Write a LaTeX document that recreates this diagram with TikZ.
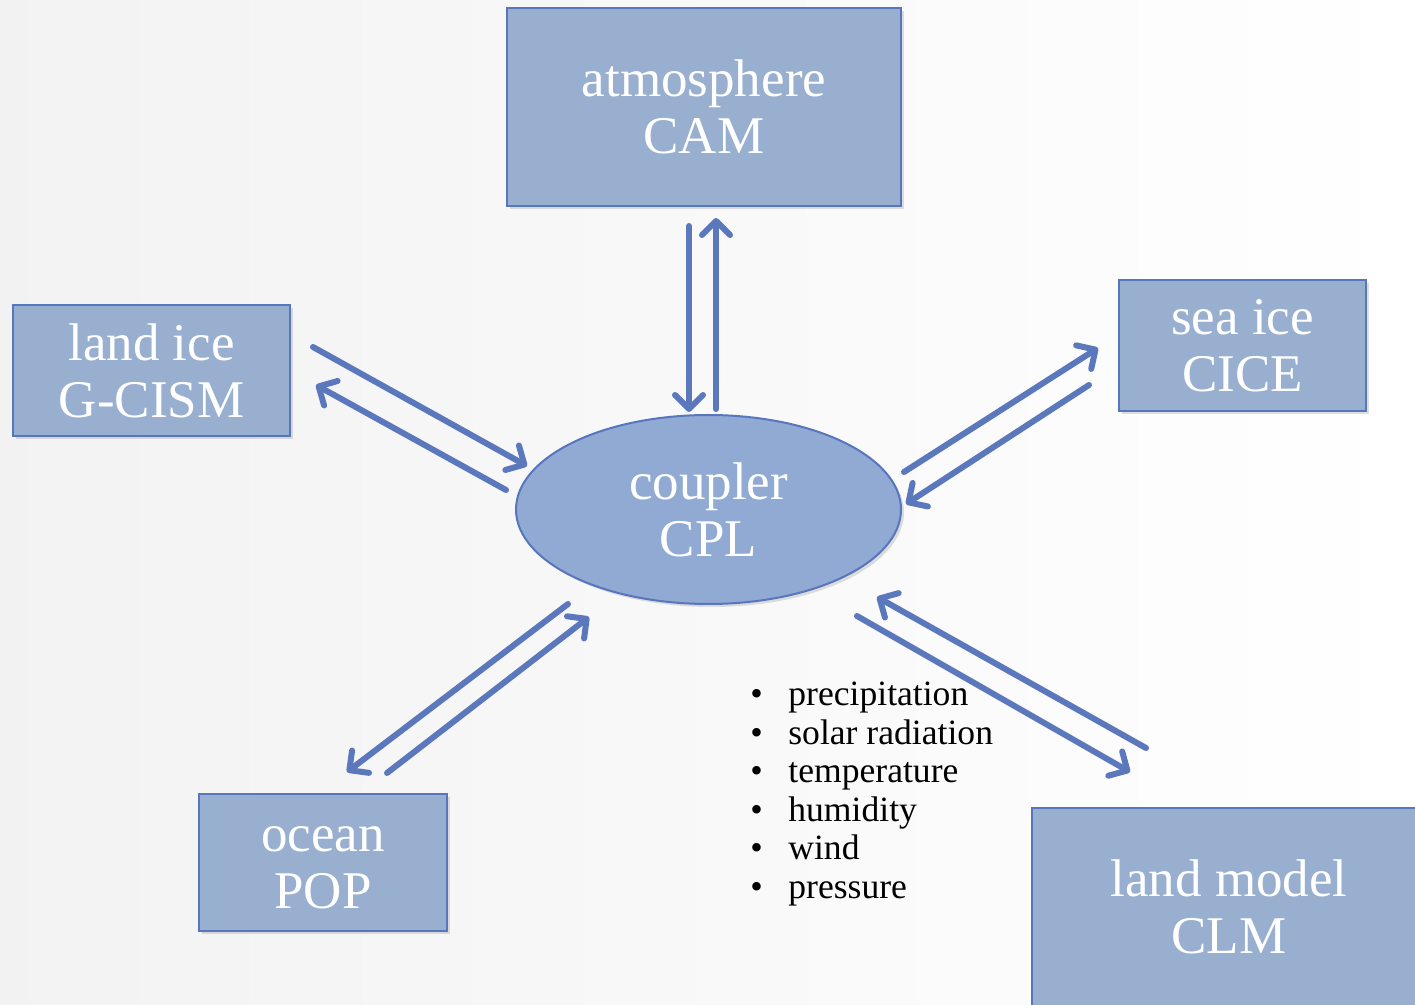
\documentclass[tikz,border=0pt]{standalone}
\usepackage{fontspec}
\setmainfont{Liberation Serif}
\usetikzlibrary{arrows.meta,shapes.geometric,shadows}
\definecolor{boxfill}{RGB}{152,175,208}
\definecolor{ellfill}{RGB}{144,170,212}
\definecolor{boxline}{RGB}{88,118,190}
\definecolor{arrcol}{RGB}{92,120,188}
\tikzset{
  comp/.style={rectangle, draw=boxline, line width=1pt, fill=boxfill,
    text=white, align=center, inner sep=0pt,
    font=\fontsize{26.5}{28.5}\selectfont,
    drop shadow={opacity=0.25, shadow xshift=1.5pt, shadow yshift=-1.5pt}},
  flow/.style={draw=arrcol, line width=3pt, line cap=round,
    -{Straight Barb[length=7pt,width=14pt,round]}},
  bullets/.style={align=left, anchor=north west, inner sep=0pt,
    font=\fontsize{17.8}{19.25}\selectfont}
}
\newcommand\bul{\makebox[19pt][l]{\textbullet}}
\begin{document}
\begin{tikzpicture}[x=0.5pt,y=-0.5pt]
\shade[left color=black!5, right color=white] (0,0) rectangle (1415,1005);
\useasboundingbox (0,0) rectangle (1415,1005);
\begin{scope}
\clip (0,0) rectangle (1415,1005);
\node[comp, minimum width=197pt, minimum height=99pt] (atm) at (704,107) {atmosphere\\CAM};
\node[comp, minimum width=138.5pt, minimum height=65.5pt] (lice) at (151.5,370.5) {land ice\\G-CISM};
\node[comp, minimum width=123.5pt, minimum height=65.5pt] (sice) at (1242.5,345.5) {sea ice\\CICE};
\node[comp, minimum width=124pt, minimum height=68.5pt] (ocn) at (323,862.5) {\raisebox{-3pt}[\height][\depth]{\begin{tabular}{@{}c@{}}ocean\\POP\end{tabular}}};
\node[comp, minimum width=197pt, minimum height=99pt] (lnd) at (1229,907) {land model\\CLM};
\node[ellipse, draw=boxline, line width=1pt, fill=ellfill, text=white,
  minimum width=192.5pt, minimum height=94.5pt, align=center, inner sep=0pt,
  font=\fontsize{26.5}{28.5}\selectfont,
  drop shadow={opacity=0.25, shadow xshift=1.5pt, shadow yshift=-1.5pt}] (cpl) at (708.5,509.5) {coupler\\CPL};
\end{scope}
% connectors
\coordinate (a1s) at (689,226); \coordinate (a1e) at (689,412);
\coordinate (a2s) at (716,409); \coordinate (a2e) at (716,218);
\draw[flow] (a1s) -- (a1e);
\draw[flow] (a2s) -- (a2e);
\coordinate (l1s) at (313,347); \coordinate (l1e) at (527,466);
\coordinate (l2s) at (506,490); \coordinate (l2e) at (316,385);
\draw[flow] (l1s) -- (l1e);
\draw[flow] (l2s) -- (l2e);
\coordinate (s1s) at (904,472); \coordinate (s1e) at (1098,348);
\coordinate (s2s) at (1089,385); \coordinate (s2e) at (906,504);
\draw[flow] (s1s) -- (s1e);
\draw[flow] (s2s) -- (s2e);
\coordinate (o1s) at (568,604); \coordinate (o1e) at (347,772);
\coordinate (o2s) at (387,773); \coordinate (o2e) at (589,617);
\draw[flow] (o1s) -- (o1e);
\draw[flow] (o2s) -- (o2e);
\coordinate (m1s) at (857,616); \coordinate (m1e) at (1130,772);
\coordinate (m2s) at (1146,748); \coordinate (m2e) at (877,597);
\draw[flow] (m1s) -- (m1e);
\draw[flow] (m2s) -- (m2e);
% bullet list
\node[bullets] (vars) at (750,682) {%
\bul precipitation\\
\bul solar radiation\\
\bul temperature\\
\bul humidity\\
\bul wind\\
\bul pressure};
\end{tikzpicture}
\end{document}
